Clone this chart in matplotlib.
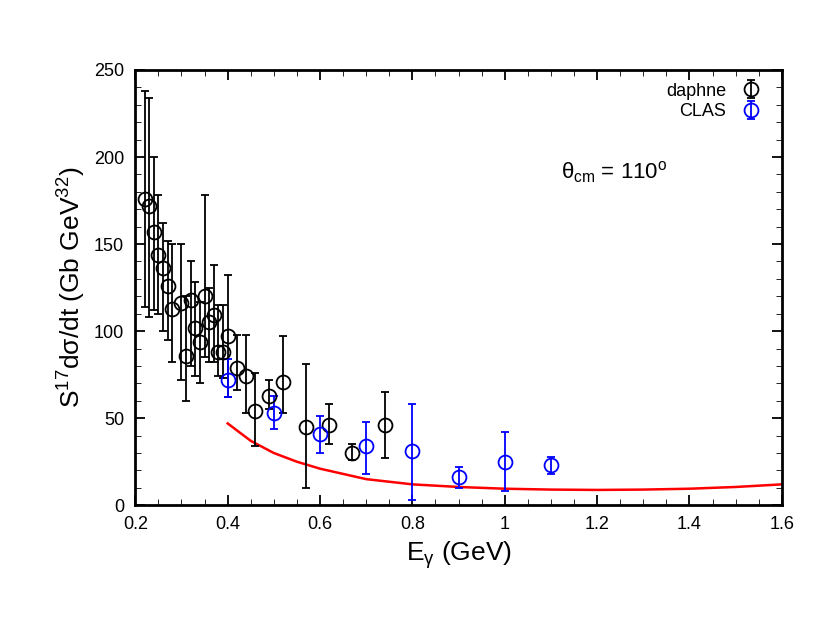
import matplotlib
matplotlib.use("Agg")
import matplotlib.pyplot as plt
import numpy as np
plt.rcParams['font.family'] = 'Liberation Sans'
plt.rcParams['mathtext.fontset'] = 'custom'
plt.rcParams['mathtext.rm'] = 'Liberation Sans'
plt.rcParams['mathtext.it'] = 'Liberation Sans'

d_x = [0.22,0.23,0.24,0.25,0.26,0.27,0.28,0.30,0.31,0.32,0.33,0.34,0.35,0.36,0.37,0.38,0.39,0.40,0.42,0.44,0.46,0.49,0.52,0.57,0.62,0.67,0.74]
d_y = [176,172,157,144,136,126,113,116,86,118,102,94,120,105,109,88,88,97,79,74,54,63,71,45,46,30,46]
d_lo = [114,108,112,110,100,95,82,72,60,80,74,70,85,82,82,74,73,62,66,53,34,55,53,10,35,26,27]
d_hi = [238,234,200,178,162,152,150,150,120,140,128,117,178,125,138,115,115,132,98,98,76,72,97,81,58,35,65]
c_x = [0.40,0.50,0.60,0.70,0.80,0.90,1.00,1.10]
c_y = [72,53,41,34,31,16,25,23]
c_lo = [62,44,30,18,3,10,8,18]
c_hi = [84,63,51,48,58,22,42,28]
t_x = [0.40,0.45,0.50,0.55,0.60,0.70,0.80,0.90,1.00,1.10,1.20,1.30,1.40,1.50,1.60]
t_y = [47,37,30,25,21,15,12,10.5,9.5,9,8.8,9,9.5,10.5,12]

fig = plt.figure(figsize=(8.3,6.42), dpi=100)
ax = fig.add_axes([0.163,0.213,0.779,0.678])
ax.plot(t_x, t_y, color='red', lw=1.8)
def eb(x,y,lo,hi,c,lab):
    y=np.array(y); err=[y-np.array(lo), np.array(hi)-y]
    ax.errorbar(x,y,yerr=err,fmt='o',mfc='none',mec=c,ecolor=c,color=c,ms=10,mew=1.3,capsize=3,elinewidth=1.3,label=lab)
eb(d_x,d_y,d_lo,d_hi,'black','daphne')
eb(c_x,c_y,c_lo,c_hi,'blue','CLAS')
ax.set_xlim(0.2,1.6); ax.set_ylim(0,250)
ax.set_xticks([0.2,0.4,0.6,0.8,1,1.2,1.4,1.6]); ax.set_xticklabels(['0.2','0.4','0.6','0.8','1','1.2','1.4','1.6'])
ax.set_yticks(range(0,251,50))
ax.minorticks_on()
ax.tick_params(which='both',direction='in',top=True,right=True,labelsize=13)
ax.tick_params(which='major',length=7,width=1.3,pad=8); ax.tick_params(which='minor',length=4)
for s in ax.spines.values(): s.set_linewidth(2)
ax.set_xlabel(r'E$_\gamma$ (GeV)',fontsize=19)
ax.set_ylabel(r'S$^{17}$d$\sigma$/dt (Gb GeV$^{32}$)',fontsize=19)
ax.text(0.74,0.75,r'$\theta_{\rm cm}$ = 110$^{\rm o}$',transform=ax.transAxes,ha='center',fontsize=16)
leg=ax.legend(loc='upper right',frameon=False,markerfirst=False,fontsize=13,handletextpad=0.4,borderaxespad=0.3,labelspacing=0.2)
fig.savefig('out.png',dpi=100)
